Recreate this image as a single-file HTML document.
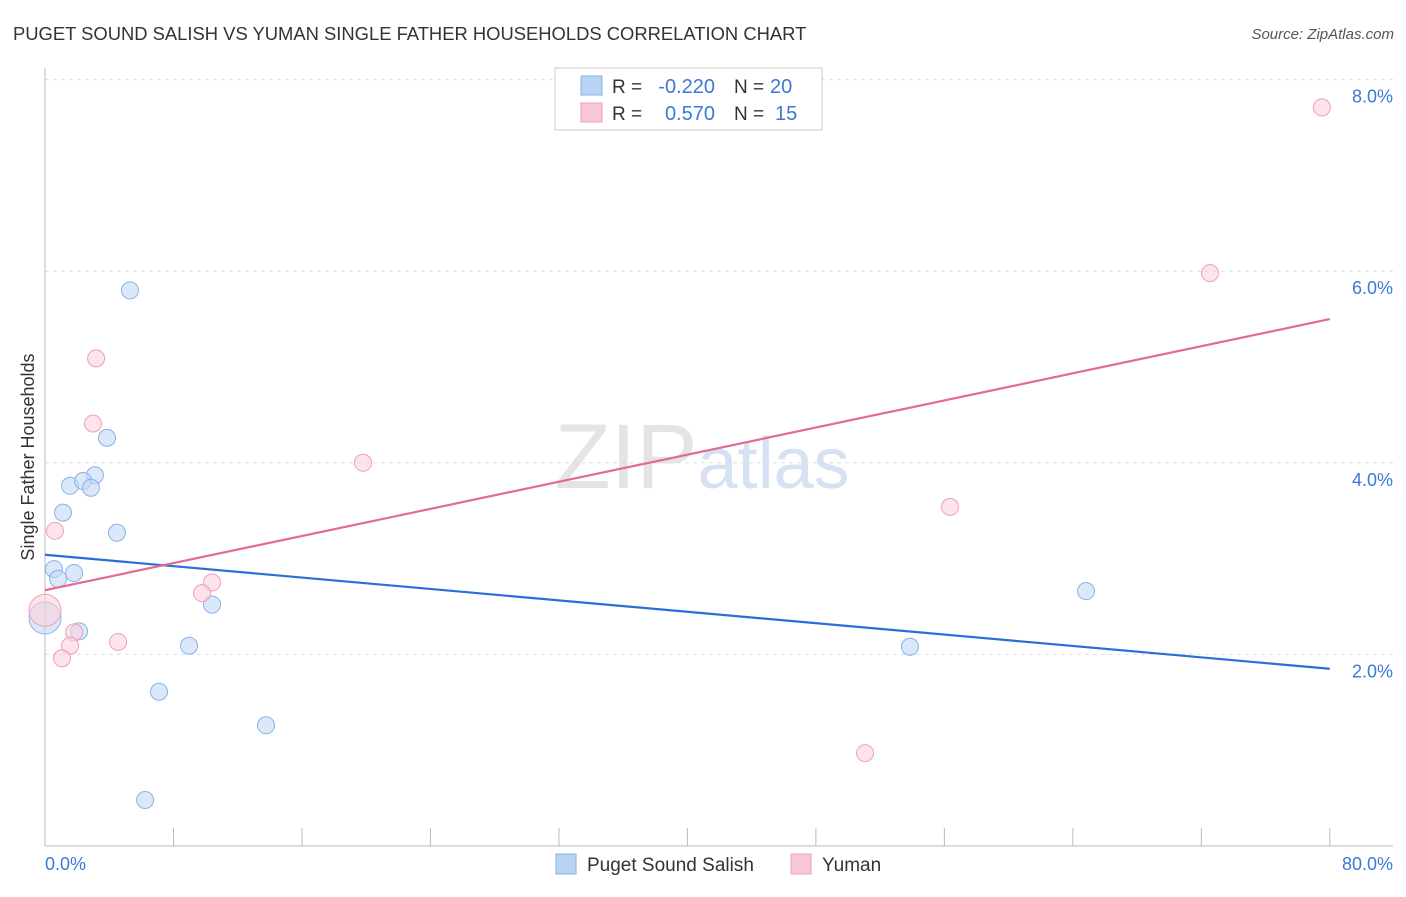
<!DOCTYPE html>
<html><head><meta charset="utf-8"><style>
body{margin:0;background:#fff;font-family:"Liberation Sans",sans-serif;}
svg text{font-family:"Liberation Sans",sans-serif;}
</style></head><body>
<svg id="chart" width="1406" height="892" viewBox="0 0 1406 892">
<text x="13" y="40" font-size="18.4" fill="#333">PUGET SOUND SALISH VS YUMAN SINGLE FATHER HOUSEHOLDS CORRELATION CHART</text>
<text x="1394" y="39" font-size="15" fill="#555" text-anchor="end" font-style="italic">Source: ZipAtlas.com</text>
<text x="702" y="488" font-size="92" text-anchor="middle" fill="#e4e4e4" font-family="Liberation Serif">ZIP<tspan fill="#d6e2f3" font-family="Liberation Sans" font-size="72">atlas</tspan></text>
<g id="grid"></g><g id="axes"></g><g id="marks"></g>
<text transform="translate(34,457) rotate(-90)" font-size="18" fill="#333" text-anchor="middle">Single Father Households</text>
<g>
<rect x="555" y="68" width="267" height="62" fill="#fff" stroke="#ccc"/>
<rect x="581" y="76" width="21" height="19" fill="#b9d3f5" stroke="#8ab2e8"/>
<rect x="581" y="103" width="21" height="19" fill="#f9c8d6" stroke="#eda0b7"/>
<text x="612" y="93" font-size="19" fill="#333">R =</text>
<text x="715" y="93" font-size="20" fill="#3c78d8" text-anchor="end">-0.220</text>
<text x="734" y="93" font-size="19" fill="#333">N =</text>
<text x="770" y="93" font-size="20" fill="#3c78d8">20</text>
<text x="612" y="120" font-size="19" fill="#333">R =</text>
<text x="715" y="120" font-size="20" fill="#3c78d8" text-anchor="end">0.570</text>
<text x="734" y="120" font-size="19" fill="#333">N =</text>
<text x="775" y="120" font-size="20" fill="#3c78d8">15</text>
</g>
<g>
<rect x="556" y="854" width="20" height="20" fill="#b9d3f5" stroke="#8ab2e8"/>
<text x="587" y="871" font-size="19" fill="#333">Puget Sound Salish</text>
<rect x="791" y="854" width="20" height="20" fill="#f9c8d6" stroke="#eda0b7"/>
<text x="822" y="871" font-size="19" fill="#333">Yuman</text>
</g>
</svg>
<script>
const xTicks=[0,10,20,30,40,50,60,70,80];
const yTicks=[2,4,6,8];
const blueX=[5.29,3.86,3.11,1.56,2.37,2.86,1.12,4.48,0.56,0.81,1.81,2.12,0,10.40,8.97,7.10,13.76,6.23,53.86,64.82];
const blueY=[5.80,4.26,3.87,3.76,3.81,3.74,3.48,3.27,2.89,2.79,2.85,2.24,2.38,2.52,2.09,1.61,1.26,0.48,2.08,2.66];
const pinkX=[79.51,72.54,3.18,2.99,19.80,56.35,0.62,10.40,9.78,4.55,1.81,1.56,1.06,51.06,0];
const pinkY=[7.71,5.98,5.09,4.41,4.00,3.54,3.29,2.75,2.64,2.13,2.23,2.09,1.96,0.97,2.46];
const blueTrend=[3.04,1.85];
const pinkTrend=[2.67,5.50];
const X=v=>45+v*16.06, Y=v=>846-v*95.8;
const NS="http://www.w3.org/2000/svg";
function mk(p,t,a){const e=document.createElementNS(NS,t);for(const k in a)e.setAttribute(k,a[k]);p.appendChild(e);return e;}
const grid=document.getElementById('grid'),axes=document.getElementById('axes'),marks=document.getElementById('marks');
yTicks.forEach(t=>{
 const l=mk(grid,'line',{x1:45,x2:1393,y1:Y(t),y2:Y(t),stroke:'#ddd','stroke-dasharray':'4,4'});
 
 
 const tx=mk(axes,'text',{x:1393,y:Y(t)+23,'font-size':18,fill:'#3c78d8','text-anchor':'end'});
 tx.textContent=t.toFixed(1)+'%';
 
 
});
mk(axes,'line',{x1:45,x2:45,y1:68,y2:846,stroke:'#bbb'});
mk(axes,'line',{x1:45,x2:1393,y1:846,y2:846,stroke:'#bbb'});
for(let i=1;i<=10;i++){const t=mk(axes,'line',{x1:X(i*8),x2:X(i*8),y1:828,y2:846,stroke:'#bbb'});
 
 }
[[0,'0.0%','start',45],[80,'80.0%','end',1393]].forEach(a=>{const t=mk(axes,'text',{x:a[3],y:870,'font-size':18,fill:'#3c78d8','text-anchor':a[2]});t.textContent=a[1];
 
 });
function pts(xs,ys,fill,stroke,name){xs.forEach((x,i)=>{const r=(x===0)?16:8.5;
 const c=mk(marks,'circle',{cx:X(x),cy:Y(ys[i]),r:r,fill:fill,stroke:stroke,'stroke-width':1,'fill-opacity':0.6});
 
 });}
pts(blueX,blueY,'#c3d8f5','#8ab2e8','puget-point');
pts(pinkX,pinkY,'#fbd0dc','#eda0b7','yuman-point');
const bl=mk(marks,'line',{x1:X(0),x2:X(80),y1:Y(blueTrend[0]),y2:Y(blueTrend[1]),stroke:'#2a6fd6','stroke-width':2.2});


const pl=mk(marks,'line',{x1:X(0),x2:X(80),y1:Y(pinkTrend[0]),y2:Y(pinkTrend[1]),stroke:'#e46a93','stroke-width':2.2});


</script>
</body></html>
